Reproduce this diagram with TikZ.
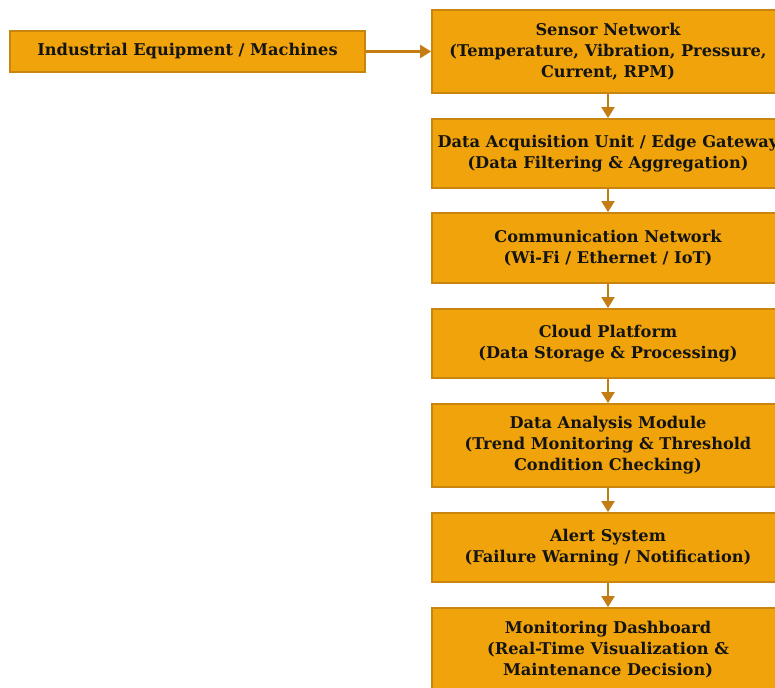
\documentclass[tikz,border=0pt]{standalone}
\usepackage{fontspec}
\setmainfont{DejaVu Serif}
\usetikzlibrary{arrows.meta}
\definecolor{boxfill}{HTML}{F0A30A}
\definecolor{boxline}{HTML}{C8860F}
\definecolor{arrowc}{HTML}{C47D12}
\tikzset{
  flowbox/.style={draw=boxline, line width=1.8pt, fill=boxfill, align=center,
    font=\fontsize{16.2}{21}\selectfont\bfseries, text=black!92, inner sep=0pt},
  flowarrow/.style={draw=arrowc, line width=2.2pt, -{Triangle[length=11pt,width=13pt]}}
}
\begin{document}
\begin{tikzpicture}[x=1pt,y=-1pt]
\useasboundingbox (0,0) rectangle (775,687);
\clip (0,0) rectangle (775,687);
\node[flowbox, minimum width=355pt, minimum height=41pt] (equip) at (187.5,51.5) {Industrial Equipment / Machines};
\node[flowbox, minimum width=352pt, minimum height=83pt] (sensor) at (608,51.5) {Sensor Network\\(Temperature, Vibration, Pressure,\\Current, RPM)};
\node[flowbox, minimum width=352pt, minimum height=69pt] (daq) at (608,153.5) {Data Acquisition Unit / Edge Gateway\\(Data Filtering \& Aggregation)};
\node[flowbox, minimum width=352pt, minimum height=70pt] (comm) at (608,248) {Communication Network\\(Wi-Fi / Ethernet / IoT)};
\node[flowbox, minimum width=352pt, minimum height=69pt] (cloud) at (608,343.5) {Cloud Platform\\(Data Storage \& Processing)};
\node[flowbox, minimum width=352pt, minimum height=83pt] (analysis) at (608,445.5) {Data Analysis Module\\(Trend Monitoring \& Threshold\\Condition Checking)};
\node[flowbox, minimum width=352pt, minimum height=69pt] (alert) at (608,547.5) {Alert System\\(Failure Warning / Notification)};
\node[flowbox, minimum width=352pt, minimum height=83pt] (dash) at (608,649.5) {Monitoring Dashboard\\(Real-Time Visualization \&\\Maintenance Decision)};
\draw[flowarrow] (equip) -- (sensor);
\draw[flowarrow] (sensor) -- (daq);
\draw[flowarrow] (daq) -- (comm);
\draw[flowarrow] (comm) -- (cloud);
\draw[flowarrow] (cloud) -- (analysis);
\draw[flowarrow] (analysis) -- (alert);
\draw[flowarrow] (alert) -- (dash);
\end{tikzpicture}
\end{document}
